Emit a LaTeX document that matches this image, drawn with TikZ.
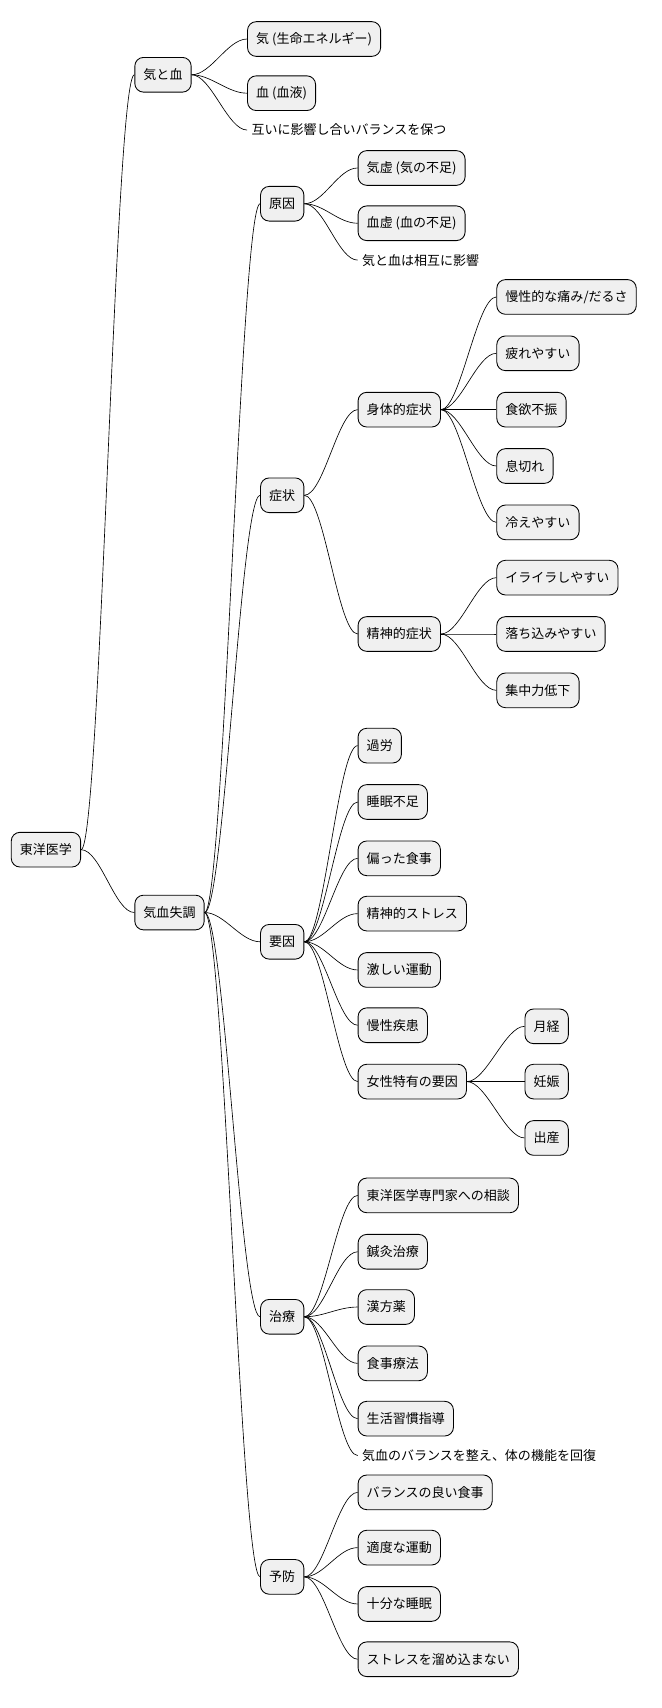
\documentclass[tikz,border=0pt]{standalone}
\usepackage{fontspec}
\newfontfamily\jp{Noto Sans CJK JP}
\begin{document}
\begin{tikzpicture}[x=1pt,y=-1pt,
  b/.style={draw=black,line width=0.8pt,fill=black!6,rounded corners=8pt,minimum height=32pt,inner xsep=8pt,anchor=west,font=\jp\fontsize{12}{14}\selectfont},
  t/.style={anchor=west,inner xsep=4pt,font=\jp\fontsize{12}{14}\selectfont},
  e/.style={line width=0.6pt}]
\useasboundingbox (0,0) rectangle (610,1576);
\node[b] (r) at (10,784) {東洋医学};
\node[b] (k) at (124,69) {気と血};
\node[b] (s) at (124,842) {気血失調};
\node[b] (k1) at (228,36) {気 (生命エネルギー)};
\node[b] (k2) at (228,86) {血 (血液)};
\node[t] (k3) at (228,120) {互いに影響し合いバランスを保つ};
\node[b] (g) at (240,188) {原因};
\node[b] (g1) at (330,155) {気虚 (気の不足)};
\node[b] (g2) at (330,206) {血虚 (血の不足)};
\node[t] (g3) at (330,240) {気と血は相互に影響};
\node[b] (z) at (240,457) {症状};
\node[b] (z1) at (330,378) {身体的症状};
\node[b] (z11) at (458,274) {慢性的な痛み/だるさ};
\node[b] (z12) at (458,326) {疲れやすい};
\node[b] (z13) at (458,378) {食欲不振};
\node[b] (z14) at (458,430) {息切れ};
\node[b] (z15) at (458,482) {冷えやすい};
\node[b] (z2) at (330,585) {精神的症状};
\node[b] (z21) at (458,533) {イライラしやすい};
\node[b] (z22) at (458,585) {落ち込みやすい};
\node[b] (z23) at (458,637) {集中力低下};
\node[b] (y) at (240,869) {要因};
\node[b] (y1) at (330,688) {過労};
\node[b] (y2) at (330,740) {睡眠不足};
\node[b] (y3) at (330,792) {偏った食事};
\node[b] (y4) at (330,843) {精神的ストレス};
\node[b] (y5) at (330,895) {激しい運動};
\node[b] (y6) at (330,946) {慢性疾患};
\node[b] (y7) at (330,998) {女性特有の要因};
\node[b] (y71) at (484,947) {月経};
\node[b] (y72) at (484,998) {妊娠};
\node[b] (y73) at (484,1050) {出産};
\node[b] (c) at (240,1215) {治療};
\node[b] (c1) at (330,1103) {東洋医学専門家への相談};
\node[b] (c2) at (330,1155) {鍼灸治療};
\node[b] (c3) at (330,1206) {漢方薬};
\node[b] (c4) at (330,1258) {食事療法};
\node[b] (c5) at (330,1309) {生活習慣指導};
\node[t] (c6) at (330,1343) {気血のバランスを整え、体の機能を回復};
\node[b] (p) at (240,1455) {予防};
\node[b] (p1) at (330,1377) {バランスの良い食事};
\node[b] (p2) at (330,1428) {適度な運動};
\node[b] (p3) at (330,1480) {十分な睡眠};
\node[b] (p4) at (330,1531) {ストレスを溜め込まない};
\foreach \a/\bb in {r/k,r/s,k/k1,k/k2,k/k3,s/g,s/z,s/y,s/c,s/p,g/g1,g/g2,g/g3,
  z/z1,z/z2,z1/z11,z1/z12,z1/z13,z1/z14,z1/z15,z2/z21,z2/z22,z2/z23,
  y/y1,y/y2,y/y3,y/y4,y/y5,y/y6,y/y7,y7/y71,y7/y72,y7/y73,
  c/c1,c/c2,c/c3,c/c4,c/c5,c/c6,p/p1,p/p2,p/p3,p/p4}
  \draw[e] (\a.east) .. controls ([xshift=18pt]\a.east) and ([xshift=-18pt]\bb.west) .. (\bb.west);
\end{tikzpicture}
\end{document}
